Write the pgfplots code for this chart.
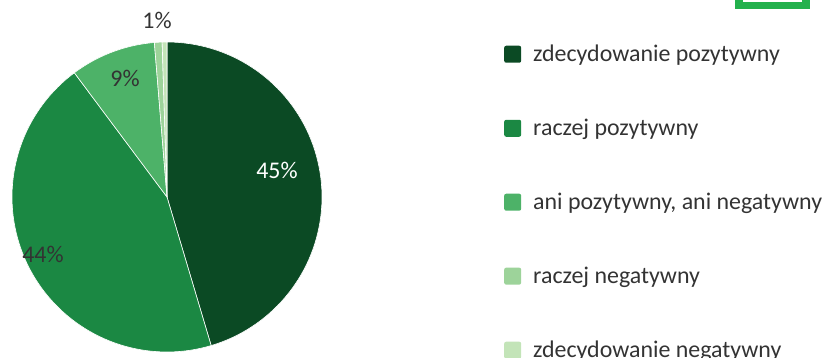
\documentclass[border=0pt]{standalone}
\usepackage{pgfplots}
\pgfplotsset{compat=1.18}
\usepackage{fontspec}
\setmainfont{Carlito}

\definecolor{zpoz}{HTML}{0B4A24}
\definecolor{rpoz}{HTML}{1B8843}
\definecolor{ani}{HTML}{4DB268}
\definecolor{rneg}{HTML}{9DD39A}
\definecolor{zneg}{HTML}{C3E4B8}
\definecolor{txt}{HTML}{333333}
\definecolor{boxg}{HTML}{23B14D}

\newcommand{\lblfont}{\fontsize{24}{28}\selectfont}

% shares in percent
\def\vA{45.4}\def\vB{44.4}\def\vC{8.9}\def\vD{0.8}\def\vE{0.5}%
\pgfmathsetmacro{\aA}{90-3.6*\vA}%
\pgfmathsetmacro{\aB}{\aA-3.6*\vB}%
\pgfmathsetmacro{\aC}{\aB-3.6*\vC}%
\pgfmathsetmacro{\aD}{\aC-3.6*\vD}%
\pgfmathsetmacro{\aE}{\aD-3.6*\vE}%

\begin{document}%
\begin{tikzpicture}
\begin{axis}[
  x=1bp, y=1bp,
  xmin=0, xmax=826, ymin=0, ymax=358,
  at={(0,0)}, anchor=origin,
  hide axis, clip=false,
  samples=80, variable=\t,
  every axis plot/.append style={draw=white, line width=0.6bp},
  legend image code/.code={\fill[#1, draw=none, rounded corners=2bp] (0bp,-8.5bp) rectangle (17bp,8.5bp);},
  legend cell align=left,
  legend style={draw=none, fill=none, text=txt, font=\lblfont,
    at={(504/826,1-43/358)}, anchor=north west,
    row sep=52bp, inner sep=0pt,
    nodes={inner sep=2bp},
    /tikz/every odd column/.append style={column sep=10bp}},
]
\addplot[fill=zpoz, domain=\aA:90] ({167+155*cos(t)},{161+155*sin(t)}) -- (axis cs:167,161) -- cycle;
\addlegendentry{zdecydowanie pozytywny}
\addplot[fill=rpoz, domain=\aB:\aA] ({167+155*cos(t)},{161+155*sin(t)}) -- (axis cs:167,161) -- cycle;
\addlegendentry{raczej pozytywny}
\addplot[fill=ani, domain=\aC:\aB] ({167+155*cos(t)},{161+155*sin(t)}) -- (axis cs:167,161) -- cycle;
\addlegendentry{ani pozytywny, ani negatywny}
\addplot[fill=rneg, domain=\aD:\aC, samples=10] ({167+155*cos(t)},{161+155*sin(t)}) -- (axis cs:167,161) -- cycle;
\addlegendentry{raczej negatywny}
\addplot[fill=zneg, domain=\aE:\aD, samples=10] ({167+155*cos(t)},{161+155*sin(t)}) -- (axis cs:167,161) -- cycle;
\addlegendentry{zdecydowanie negatywny}

\node[white, font=\lblfont] at (axis cs:277,188) {45\%};
\node[txt, font=\lblfont] at (axis cs:43,104) {44\%};
\node[txt, font=\lblfont] at (axis cs:125,280) {9\%};
\node[txt, font=\lblfont] at (axis cs:157,338) {1\%};

% decorative frame cut at the top right
\fill[boxg] (axis cs:735,349) rectangle (axis cs:810,358);
\fill[white] (axis cs:743,356) rectangle (axis cs:802,358);
\end{axis}
\pgfresetboundingbox
\path (0,0) rectangle (826bp,358bp);
\end{tikzpicture}%
\end{document}
